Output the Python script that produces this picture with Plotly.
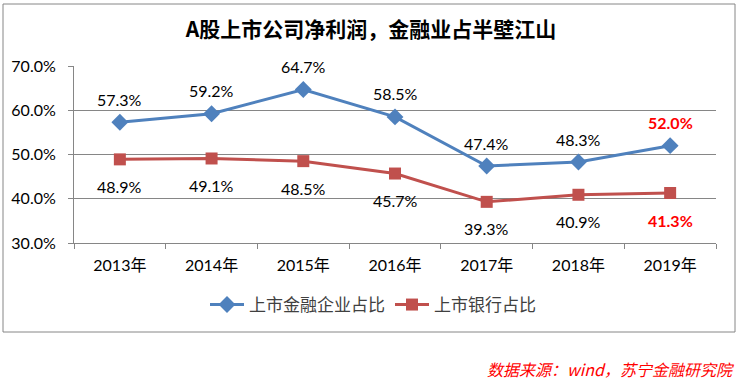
import plotly.graph_objects as go

years = ["2013年", "2014年", "2015年", "2016年", "2017年", "2018年", "2019年"]
fin_share = [57.3, 59.2, 64.7, 58.5, 47.4, 48.3, 52.0]
bank_share = [48.9, 49.1, 48.5, 45.7, 39.3, 40.9, 41.3]
fin_name = "上市金融企业占比"
bank_name = "上市银行占比"
title_text = "A股上市公司净利润，金融业占半壁江山"
source_text = "数据来源：wind，苏宁金融研究院"
y_ticks = [30, 40, 50, 60, 70]

W, H = 742, 381
L, R, T, B = 74, 716, 66, 243
pw, ph = R - L, B - T

def px_x(x):
    return (x - L) / pw

def px_y(y):
    return (B - y) / ph

BLUE = "#4F81BD"
RED = "#C0504D"
GRID = "#868686"
FONT = "Lato, 'Noto Sans CJK SC', sans-serif"
CJK = "'Noto Sans CJK SC', sans-serif"

fig = go.Figure()
fig.add_trace(go.Scatter(
    x=years, y=fin_share, name=fin_name, mode="lines+markers",
    line=dict(color=BLUE, width=3),
    marker=dict(symbol="diamond", size=13, color=BLUE),
))
fig.add_trace(go.Scatter(
    x=years, y=bank_share, name=bank_name, mode="lines+markers",
    line=dict(color=RED, width=3),
    marker=dict(symbol="square", size=12, color=RED),
))

annotations = []
last = len(years) - 1
for i, (yr, v) in enumerate(zip(years, fin_share)):
    hl = i == last
    annotations.append(dict(
        x=yr, y=v, text=f"<b>{v:.1f}%</b>" if hl else f"{v:.1f}%",
        showarrow=False, yshift=23,
        font=dict(family=FONT, size=16, color="#FF0000" if hl else "#000000"),
    ))
for i, (yr, v) in enumerate(zip(years, bank_share)):
    hl = i == last
    annotations.append(dict(
        x=yr, y=v, text=f"<b>{v:.1f}%</b>" if hl else f"{v:.1f}%",
        showarrow=False, yshift=-27,
        font=dict(family=FONT, size=16, color="#FF0000" if hl else "#000000"),
    ))
annotations.append(dict(
    xref="paper", yref="paper", x=px_x(737), y=px_y(369),
    xanchor="right", yanchor="middle", showarrow=False,
    text=f"<i>{source_text}</i>",
    font=dict(family=CJK, size=16, color="#FF0000"),
))

fig.update_layout(
    width=W, height=H,
    margin=dict(l=L, r=W - R, t=T, b=H - B, autoexpand=False),
    paper_bgcolor="white", plot_bgcolor="white",
    title=dict(
        text=f"<b>{title_text}</b>", x=0.5, xanchor="center",
        y=1 - 30 / H, yanchor="middle",
        font=dict(family=CJK, size=21, color="#000000"),
    ),
    showlegend=True,
    legend=dict(
        orientation="h", x=px_x(373), xanchor="center",
        y=px_y(305), yanchor="middle",
        font=dict(family=CJK, size=17, color="#404040"),
        bgcolor="rgba(0,0,0,0)", itemwidth=34,
    ),
    xaxis=dict(
        type="category", showgrid=False, showline=True, linecolor=GRID,
        linewidth=1, ticks="outside", ticklen=5, tickcolor=GRID,
        tickson="boundaries", range=[-0.5, len(years) - 0.5],
        tickfont=dict(family=FONT, size=16, color="#000000"),
        ticklabelstandoff=8,
        zeroline=False,
    ),
    yaxis=dict(
        range=[30, 70], tickvals=y_ticks,
        ticktext=[f"{v:.1f}%" for v in y_ticks],
        showgrid=True, gridcolor=GRID, gridwidth=1,
        showline=True, linecolor=GRID, linewidth=1,
        ticks="outside", ticklen=5, tickcolor=GRID,
        tickfont=dict(family=FONT, size=16, color="#000000"),
        ticklabelstandoff=9,
        zeroline=False,
    ),
    annotations=annotations,
    shapes=[dict(
        type="rect", xref="paper", yref="paper",
        x0=px_x(3), x1=px_x(735), y0=px_y(332), y1=px_y(4),
        line=dict(color=GRID, width=1), fillcolor="rgba(0,0,0,0)",
        layer="below",
    )],
)

fig.write_html(
    "out.html",
    config={"displayModeBar": False},
    post_script="document.body.style.margin='0';document.body.style.padding='0';",
)
